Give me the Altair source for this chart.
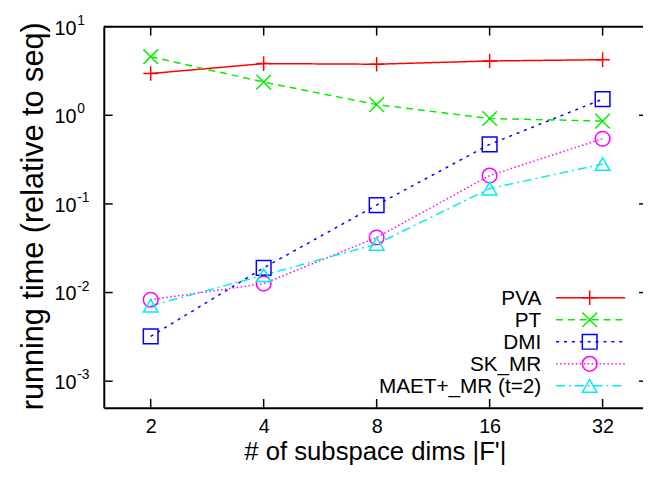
import altair as alt
import pandas as pd

# ---- data ----
x_dims = [2, 4, 8, 16, 32]
series_names = ["PVA", "PT", "DMI", "SK_MR", "MAET+_MR (t=2)"]
pva = [2.96, 3.83, 3.77, 4.10, 4.24]
pt = [4.58, 2.37, 1.32, 0.92, 0.86]
dmi = [0.0032, 0.019, 0.097, 0.47, 1.52]
sk_mr = [0.0083, 0.0126, 0.0418, 0.209, 0.544]
maet = [0.0071, 0.0157, 0.0353, 0.149, 0.282]
y_tick_values = [0.001, 0.01, 0.1, 1, 10]
y_tick_exps = ["-3", "-2", "-1", "0", "1"]
x_title = "# of subspace dims |F'|"
y_title = "running time (relative to seq)"

# ---- styles ----
colors = ["#ff0000", "#00ee00", "#0000ff", "#ff00ff", "#00eeee"]
dashes = [[1, 0], [7, 5], [3, 5], [1.5, 2.5], [9, 4, 2, 4]]
shapes = [
    "M-1,0L1,0M0,-1L0,1",
    "M-1,-1L1,1M-1,1L1,-1",
    "square",
    "circle",
    "triangle-up",
]
FONT = "Liberation Sans"
W, H = 546, 386

all_vals = [pva, pt, dmi, sk_mr, maet]
rows = []
for name, vals in zip(series_names, all_vals):
    for d, v in zip(x_dims, vals):
        rows.append({"dims": d, "value": v, "series": name})
df = pd.DataFrame(rows)

xscale = alt.Scale(type="log", base=2, domain=[1.5, 41.0], nice=False)
yscale = alt.Scale(type="log", domain=[0.0005, 10], nice=False)
xaxis = alt.Axis(values=x_dims, format="d", title=None, grid=False, ticks=False,
                 tickSize=0, labelFontSize=20, labelFont=FONT, labelColor="black",
                 labelPadding=9, domainColor="black", domainWidth=2)
yaxis = alt.Axis(title=None, grid=False, ticks=False, tickSize=0, labels=False,
                 domainColor="black", domainWidth=2)

X = alt.X("dims:Q", scale=xscale, axis=xaxis)
Y = alt.Y("value:Q", scale=yscale, axis=yaxis)
color_enc = alt.Color("series:N", scale=alt.Scale(domain=series_names, range=colors), legend=None)
dash_enc = alt.StrokeDash("series:N", scale=alt.Scale(domain=series_names, range=dashes), legend=None)
shape_enc = alt.Shape("series:N", scale=alt.Scale(domain=series_names, range=shapes), legend=None)

one = pd.DataFrame({"dims": [2], "value": [1]})

lines = alt.Chart(df).mark_line(strokeWidth=1.5).encode(
    x=X, y=Y, color=color_enc, strokeDash=dash_enc, order="dims:Q")
points = alt.Chart(df).mark_point(filled=False, strokeWidth=1.5, size=220, opacity=1).encode(
    x=X, y=Y, color=color_enc, shape=shape_enc)

xt = pd.DataFrame({"dims": x_dims})
yt = pd.DataFrame({"value": y_tick_values, "base": ["10"] * len(y_tick_values), "exp": y_tick_exps})

bottom_ticks = alt.Chart(xt).mark_rule(strokeWidth=1.5, color="black").encode(
    x=X, y=alt.value(H), y2=alt.value(H - 9))
top_ticks = alt.Chart(xt).mark_rule(strokeWidth=1.5, color="black").encode(
    x=X, y=alt.value(0), y2=alt.value(9))
left_ticks = alt.Chart(yt).mark_rule(strokeWidth=1.5, color="black").encode(
    y=Y, x=alt.value(0), x2=alt.value(9))
right_ticks = alt.Chart(yt[yt["value"] < 10]).mark_rule(strokeWidth=1.5, color="black").encode(
    y=Y, x=alt.value(W - 4), x2=alt.value(W))
top_border = alt.Chart(one).mark_rule(strokeWidth=2, color="black").encode(
    x=alt.value(0), x2=alt.value(W), y=alt.value(0))

ylab_base = alt.Chart(yt).mark_text(font=FONT, fontSize=20, align="left", baseline="middle",
                                     dy=2, color="black").encode(
    y=Y, x=alt.value(-50), text="base:N")
ylab_exp = alt.Chart(yt).mark_text(font=FONT, fontSize=14, align="left", baseline="middle",
                                    dy=-6, color="black").encode(
    y=Y, x=alt.value(-27), text="exp:N")

ytitle = alt.Chart(one).mark_text(font=FONT, fontSize=31, angle=270, align="center",
                                   baseline="alphabetic", color="black", text=y_title).encode(
    x=alt.value(-62), y=alt.value(192))
xtitle = alt.Chart(one).mark_text(font=FONT, fontSize=26, align="center",
                                   baseline="alphabetic", color="black", text=x_title).encode(
    x=alt.value(275), y=alt.value(439))

legend_layers = []
for i, name in enumerate(series_names):
    ly = 274.5 + 22.3 * i
    legend_layers.append(
        alt.Chart(one).mark_rule(strokeWidth=1.5, color=colors[i], strokeDash=dashes[i]).encode(
            x=alt.value(458), x2=alt.value(528), y=alt.value(ly)))
    legend_layers.append(
        alt.Chart(one).mark_point(filled=False, strokeWidth=1.5, size=220, opacity=1,
                                  color=colors[i], shape=shapes[i]).encode(
            x=alt.value(492), y=alt.value(ly)))
    legend_layers.append(
        alt.Chart(one).mark_text(font=FONT, fontSize=21, align="right", baseline="middle",
                                 dy=1, color="black", text=name).encode(
            x=alt.value(443), y=alt.value(ly)))

chart = alt.layer(
    lines, points, bottom_ticks, top_ticks, left_ticks, right_ticks, top_border,
    ylab_base, ylab_exp, ytitle, xtitle, *legend_layers
).properties(
    width=W, height=H,
    autosize=alt.AutoSizeParams(type="none"),
    padding={"left": 97, "top": 16, "right": 0, "bottom": 58},
    background="white",
).configure_view(stroke=None)

chart.save("out.html", embed_options={"renderer": "svg", "actions": False})
